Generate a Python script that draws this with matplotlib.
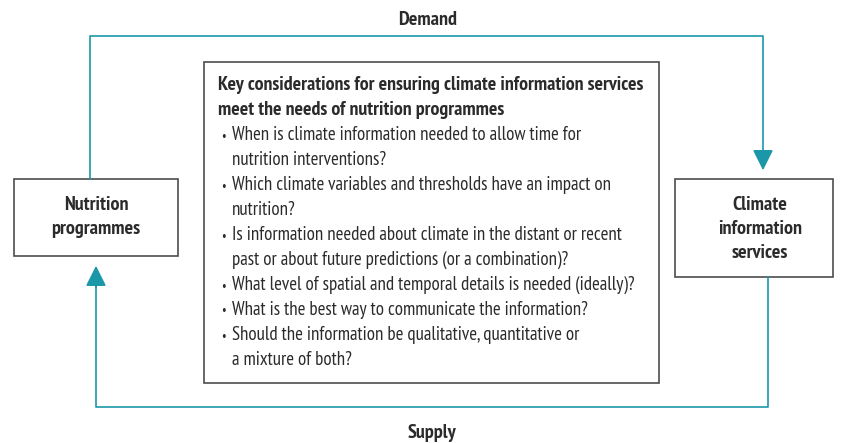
import matplotlib.pyplot as plt
from matplotlib.patches import Rectangle, FancyArrowPatch

teal = '#1a97a8'
edge = '#4d4d4d'
ink = '#2b2b2b'
fam = ['PT Sans Narrow', 'DejaVu Sans']

title_lines = ["Key considerations for ensuring climate information services",
               "meet the needs of nutrition programmes"]
bullets = [
    ["When is climate information needed to allow time for", "nutrition interventions?"],
    ["Which climate variables and thresholds have an impact on", "nutrition?"],
    ["Is information needed about climate in the distant or recent",
     "past or about future predictions (or a combination)?"],
    ["What level of spatial and temporal details is needed (ideally)?"],
    ["What is the best way to communicate the information?"],
    ["Should the information be qualitative, quantitative or", "a mixture of both?"],
]
left_label = ["Nutrition", "programmes"]
right_label = ["Climate", "information", "services"]
top_label = "Demand"
bottom_label = "Supply"

fig = plt.figure(figsize=(8.43, 4.43), dpi=100)
ax = fig.add_axes([0, 0, 1, 1])
ax.set_xlim(0, 843)
ax.set_ylim(443, 0)
ax.axis('off')

fs_bold = 14.3
fs_body = 13.6
fs_lab = 14.5

# boxes
ax.add_patch(Rectangle((14, 179), 164, 77, fill=False, ec=edge, lw=1.2))
ax.add_patch(Rectangle((675, 179), 158, 98, fill=False, ec=edge, lw=1.2))
ax.add_patch(Rectangle((204, 62), 455, 321, fill=False, ec=edge, lw=1.2))

# demand path
ax.plot([90, 90, 763, 763], [179, 36, 36, 160], color=teal, lw=1.2)
ax.add_patch(FancyArrowPatch((763, 150), (763, 173), arrowstyle='-|>,head_length=0.9,head_width=0.45',
                             mutation_scale=14, color=teal, lw=1.2))
# supply path
ax.plot([768, 768, 96, 96], [277, 407, 407, 275], color=teal, lw=1.2)
ax.add_patch(FancyArrowPatch((96, 290), (96, 263), arrowstyle='-|>,head_length=0.9,head_width=0.45',
                             mutation_scale=14, color=teal, lw=1.2))

ax.text(428, 20, top_label, ha='center', va='center', fontsize=fs_lab, fontweight='bold', color=ink, family=fam)
ax.text(432, 433, bottom_label, ha='center', va='center', fontsize=fs_lab, fontweight='bold', color=ink, family=fam)
for i, line in enumerate(left_label):
    ax.text(96, 205 + 24 * i, line, ha='center', va='center', fontsize=fs_lab, fontweight='bold',
            color=ink, family=fam)
for i, line in enumerate(right_label):
    ax.text(760, 205 + 24 * i, line, ha='center', va='center', fontsize=fs_lab, fontweight='bold',
            color=ink, family=fam)

y = 85
step = 25
for line in title_lines:
    ax.text(218, y, line, ha='left', va='center', fontsize=fs_bold, fontweight='bold', color=ink, family=fam)
    y += step
for b in bullets:
    ax.text(221, y + 1, '\u2022', ha='left', va='center', fontsize=9, color=ink, family=fam)
    for line in b:
        ax.text(232, y, line, ha='left', va='center', fontsize=fs_body, color=ink, family=fam)
        y += step

fig.savefig('out.png', dpi=100)
